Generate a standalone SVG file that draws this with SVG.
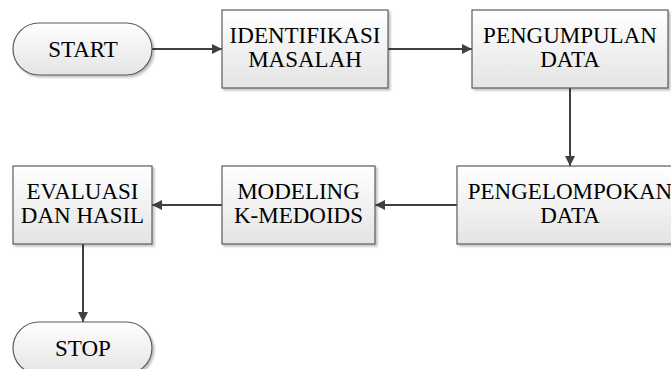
<svg xmlns="http://www.w3.org/2000/svg" width="671" height="369" viewBox="0 0 671 369">
<defs>
<linearGradient id="g" x1="0" y1="0" x2="0" y2="1">
<stop offset="0" stop-color="#ffffff"/>
<stop offset="1" stop-color="#e4e4e4"/>
</linearGradient>
<marker id="ah" viewBox="0 0 10 10" refX="10" refY="5" markerWidth="10" markerHeight="10" markerUnits="userSpaceOnUse" orient="auto">
<path d="M0,0 L10,5 L0,10 z" fill="#404040"/>
</marker>
<filter id="sh" x="-10%" y="-10%" width="130%" height="130%">
<feOffset dx="2" dy="2" in="SourceAlpha" result="o"/>
<feGaussianBlur in="o" stdDeviation="1" result="b"/>
<feComponentTransfer in="b" result="c"><feFuncA type="linear" slope="0.25"/></feComponentTransfer>
<feMerge><feMergeNode in="c"/><feMergeNode in="SourceGraphic"/></feMerge>
</filter>
</defs>
<style>
.box{fill:url(#g);stroke:#5a5a5a;stroke-width:1.2;filter:url(#sh)}
.t{font-family:"Liberation Serif","Times New Roman",serif;font-size:23px;fill:#000;text-anchor:middle}
.c{stroke:#404040;stroke-width:2;fill:none;marker-end:url(#ah)}
</style>
<rect width="671" height="369" fill="#ffffff"/>
<g id="connectors">
<line class="c" x1="152" y1="49" x2="222" y2="49"/>
<line class="c" x1="388" y1="49" x2="472" y2="49"/>
<line class="c" x1="570" y1="88" x2="570" y2="166"/>
<line class="c" x1="457" y1="205" x2="375" y2="205"/>
<line class="c" x1="222" y1="205" x2="152" y2="205"/>
<line class="c" x1="83" y1="244" x2="83" y2="322"/>
</g>
<g id="start">
<rect class="box" x="13" y="23" width="139" height="52" rx="26" ry="26"/>
<text class="t" x="83" y="57">START</text>
</g>
<g id="identifikasi">
<rect class="box" x="222" y="10" width="166" height="78"/>
<text class="t" x="305" y="43">IDENTIFIKASI</text>
<text class="t" x="305" y="67">MASALAH</text>
</g>
<g id="pengumpulan">
<rect class="box" x="472" y="10" width="196" height="78"/>
<text class="t" x="570" y="43">PENGUMPULAN</text>
<text class="t" x="570" y="67">DATA</text>
</g>
<g id="pengelompokan">
<rect class="box" x="457" y="166" width="226" height="78"/>
<text class="t" x="570" y="199">PENGELOMPOKAN</text>
<text class="t" x="570" y="223">DATA</text>
</g>
<g id="modeling">
<rect class="box" x="222" y="166" width="153" height="78"/>
<text class="t" x="298.5" y="199">MODELING</text>
<text class="t" x="298.5" y="223">K-MEDOIDS</text>
</g>
<g id="evaluasi">
<rect class="box" x="13" y="166" width="139" height="78"/>
<text class="t" x="82.5" y="199">EVALUASI</text>
<text class="t" x="82.5" y="223">DAN HASIL</text>
</g>
<g id="stop">
<rect class="box" x="13" y="322" width="139" height="52" rx="26" ry="26"/>
<text class="t" x="83" y="356">STOP</text>
</g>
</svg>
